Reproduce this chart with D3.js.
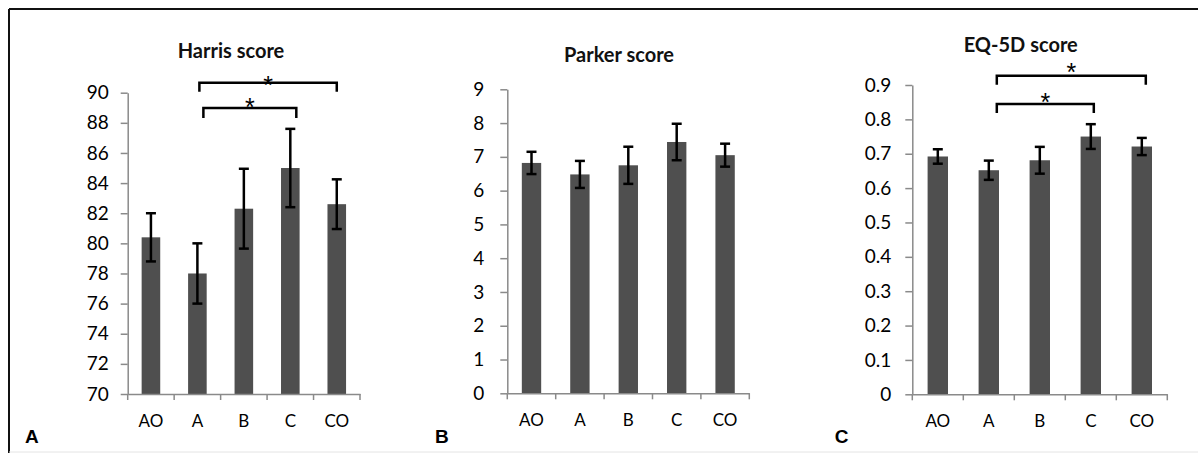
<!DOCTYPE html>
<html>
<head>
<meta charset="utf-8">
<script src="https://cdn.jsdelivr.net/npm/d3@7"></script>
<style>
  body { margin: 0; background: #fff; }
  svg { display: block; }
  .tick text { font-family: Lato, "Open Sans", sans-serif; fill: #000; }
  .title { font-family: Lato, "Open Sans", sans-serif; font-weight: bold; font-size: 20px; fill: #111; }
  .panel-label { font-family: "Liberation Sans", Arial, sans-serif; font-weight: bold; font-size: 19px; fill: #000; }
  .star { font-family: "Liberation Sans", Arial, sans-serif; font-size: 25px; fill: #000; }
</style>
</head>
<body>
<svg id="chart" width="1198" height="453"></svg>
<script>
// categories shared by all three panels
const categories = ["AO", "A", "B", "C", "CO"];

// Harris score
const harrisMean = [80.4, 78.0, 82.3, 85.0, 82.6];
const harrisErr = [1.6, 2.0, 2.65, 2.6, 1.65];
const harrisTicks = [70, 72, 74, 76, 78, 80, 82, 84, 86, 88, 90];

// Parker score
const parkerMean = [6.82, 6.48, 6.75, 7.44, 7.05];
const parkerErr = [0.33, 0.40, 0.55, 0.54, 0.34];
const parkerTicks = [0, 1, 2, 3, 4, 5, 6, 7, 8, 9];

// EQ-5D score
const eqMean = [0.692, 0.652, 0.681, 0.750, 0.721];
const eqErr = [0.021, 0.028, 0.039, 0.036, 0.025];
const eqTicks = [0, 0.1, 0.2, 0.3, 0.4, 0.5, 0.6, 0.7, 0.8, 0.9];

// significance brackets (pairs of groups)
const harrisSig = [["A", "CO"], ["A", "C"]];
const eqSig = [["A", "CO"], ["A", "C"]];

const svg = d3.select("#chart");

// frame (only top and left edges survive the crop)
svg.append("line").attr("x1", 9).attr("x2", 1198).attr("y1", 9).attr("y2", 9)
    .attr("stroke", "#111").attr("stroke-width", 2);
svg.append("line").attr("x1", 9).attr("x2", 9).attr("y1", 9).attr("y2", 453)
    .attr("stroke", "#111").attr("stroke-width", 2);
svg.append("line").attr("x1", 9).attr("x2", 1198).attr("y1", 452).attr("y2", 452)
    .attr("stroke", "#e4e4e4").attr("stroke-width", 1);

/**
 * Draws one bar panel with error bars, axes and optional brackets.
 */
function drawPanel(p) {
    let g = svg.append("g");

    let x = d3.scaleBand()
        .domain(categories)
        .range([p.left, p.right])
        .padding(0);

    let y = d3.scaleLinear()
        .domain([p.ticks[0], p.ticks[p.ticks.length - 1]])
        .range([p.bottom, p.top]);

    let barW = x.bandwidth() * 0.4;
    let rows = categories.map((c, i) => ({cat: c, mean: p.mean[i], err: p.err[i]}));

    // bars
    g.selectAll("rect.bar")
        .data(rows)
        .enter()
        .append("rect")
        .attr("class", "bar")
        .attr("x", d => x(d.cat) + x.bandwidth() / 2 - barW / 2)
        .attr("y", d => y(d.mean))
        .attr("width", barW)
        .attr("height", d => y(p.ticks[0]) - y(d.mean))
        .attr("fill", "#4f4f4f");

    // y axis
    let yAxis = g.append("g")
        .attr("transform", "translate(" + p.left + ",0)")
        .call(d3.axisLeft(y)
            .tickValues(p.ticks)
            .tickFormat(p.fmt)
            .tickSize(7)
            .tickSizeOuter(0)
            .tickPadding(p.labelPad));
    yAxis.selectAll("path, line").attr("stroke", "#8a8a8a").attr("stroke-width", 1.5);
    yAxis.selectAll("text").style("font-size", "19px");

    // x axis with ticks between groups
    let xAxis = g.append("g")
        .attr("transform", "translate(0," + p.bottom + ")")
        .call(d3.axisBottom(x).tickSize(0).tickPadding(21));
    xAxis.select("path").attr("stroke", "#8a8a8a").attr("stroke-width", 1.5);
    xAxis.selectAll("text").style("font-size", "17px");

    let bounds = categories.map(c => x(c)).concat([p.right]);
    g.selectAll("line.xtick")
        .data(bounds)
        .enter()
        .append("line")
        .attr("x1", d => d).attr("x2", d => d)
        .attr("y1", p.bottom).attr("y2", p.bottom + 6)
        .attr("stroke", "#8a8a8a").attr("stroke-width", 1.5);

    // error bars
    let eb = g.selectAll("g.err")
        .data(rows)
        .enter()
        .append("g")
        .attr("class", "err")
        .attr("stroke", "#000")
        .attr("stroke-width", 2.5);
    let cx = d => x(d.cat) + x.bandwidth() / 2;
    eb.append("line")
        .attr("x1", cx).attr("x2", cx)
        .attr("y1", d => y(d.mean + d.err)).attr("y2", d => y(d.mean - d.err));
    eb.append("line")
        .attr("x1", d => cx(d) - 5).attr("x2", d => cx(d) + 5)
        .attr("y1", d => y(d.mean + d.err)).attr("y2", d => y(d.mean + d.err));
    eb.append("line")
        .attr("x1", d => cx(d) - 5).attr("x2", d => cx(d) + 5)
        .attr("y1", d => y(d.mean - d.err)).attr("y2", d => y(d.mean - d.err));

    // significance brackets
    (p.sig || []).forEach((pair, i) => {
        let b = p.brackets[i];
        let x1 = x(pair[0]) + x.bandwidth() / 2 + b.dx0;
        let x2 = x(pair[1]) + x.bandwidth() / 2 + b.dx1;
        g.append("path")
            .attr("d", "M" + x1 + "," + (b.y + b.leg) + "V" + b.y + "H" + x2 + "V" + (b.y + b.leg))
            .attr("fill", "none")
            .attr("stroke", "#000")
            .attr("stroke-width", 2.5);
        g.append("text")
            .attr("class", "star")
            .attr("x", (x1 + x2) / 2)
            .attr("y", b.y - b.starGap + 14)
            .attr("text-anchor", "middle")
            .text("*");
    });

    // title and panel letter
    g.append("text")
        .attr("class", "title")
        .attr("x", p.titleX)
        .attr("y", p.titleY)
        .attr("text-anchor", "middle")
        .text(p.title);
    g.append("text")
        .attr("class", "panel-label")
        .attr("x", p.labelX)
        .attr("y", 443)
        .text(p.letter);
}

drawPanel({
    title: "Harris score", letter: "A",
    mean: harrisMean, err: harrisErr, ticks: harrisTicks, fmt: d3.format("d"),
    left: 127.7, right: 360, top: 92.7, bottom: 394, labelPad: 12,
    titleX: 231, titleY: 58, labelX: 25,
    sig: harrisSig,
    brackets: [
        {y: 82.7, leg: 9, dx0: 2, dx1: 0, starGap: 3},
        {y: 108, leg: 10, dx0: 6, dx1: 6, starGap: 6}
    ]
});

drawPanel({
    title: "Parker score", letter: "B",
    mean: parkerMean, err: parkerErr, ticks: parkerTicks, fmt: d3.format("d"),
    left: 507.3, right: 749.3, top: 89.3, bottom: 393.3, labelPad: 16,
    titleX: 619, titleY: 62, labelX: 435
});

drawPanel({
    title: "EQ-5D score", letter: "C",
    mean: eqMean, err: eqErr, ticks: eqTicks, fmt: d => d === 0 ? "0" : d3.format(".1f")(d),
    left: 912.3, right: 1167.3, top: 85, bottom: 394.3, labelPad: 14,
    titleX: 1020.7, titleY: 52, labelX: 834.7,
    sig: eqSig,
    brackets: [
        {y: 75.7, leg: 9, dx0: 8, dx1: 4, starGap: 9},
        {y: 104, leg: 9, dx0: 8, dx1: 3, starGap: 7}
    ]
});
</script>
</body>
</html>
